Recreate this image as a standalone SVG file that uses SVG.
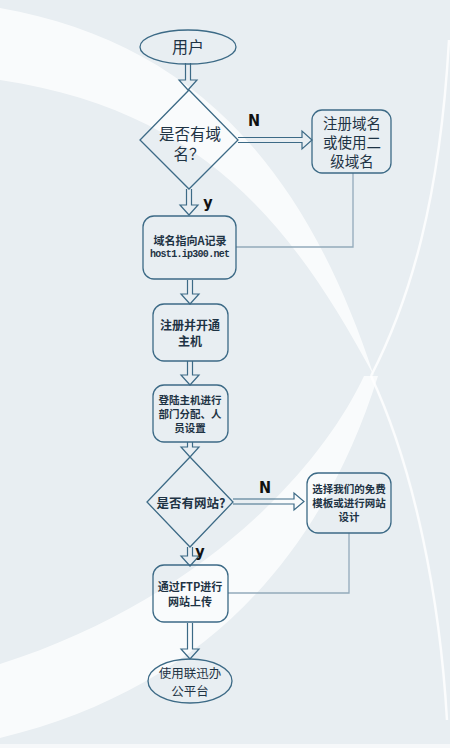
<svg xmlns="http://www.w3.org/2000/svg" width="450" height="748" viewBox="0 0 450 748">
<style>
.shape{fill:none;stroke:#3c6a86;stroke-width:1.3}
.arr{fill:none;stroke:#3c6a86;stroke-width:1.2;stroke-linejoin:miter}
.link{fill:none;stroke:#93aabb;stroke-width:1.3}
.t{font-family:"Noto Sans CJK SC","Noto Sans",sans-serif;fill:#1e3344;text-anchor:middle;dominant-baseline:central}
.b{font-weight:bold}
.mono{font-family:"Liberation Mono","DejaVu Sans Mono",monospace;font-weight:bold}
.lab{font-family:"Liberation Sans Narrow","DejaVu Sans Condensed",sans-serif;font-weight:bold;fill:#111;font-size:16px;text-anchor:middle;dominant-baseline:central}
.swoosh{fill:#ffffff;opacity:0.75}
.thin{fill:none;stroke:#ffffff;opacity:0.8}
</style>
<rect x="0" y="0" width="450" height="748" fill="#e8eef2"/>
<g id="background">
<path class="swoosh" d="M0,8 C180,40 300,150 374,376 C290,220 200,110 0,80 Z"/>
<path class="swoosh" d="M364,376 C320,470 200,600 0,664 L0,738 C200,690 320,560 378,376 Z"/>
<path class="thin" stroke-width="2.5" d="M449,40 C440,200 410,300 371,376"/>
<path class="thin" stroke-width="2.5" d="M371,376 C415,470 440,600 447,720"/>
<rect x="0" y="744" width="450" height="4" fill="#f6f8fa"/>
</g>
<g id="connectors">
<path class="arr" d="M185.5,63 V80 H179 L188,90 L197,80 H190.5 V63"/>
<path class="arr" d="M186.5,189 V205 H180 L189,215 L198,205 H191.5 V189"/>
<path class="arr" d="M187.5,280 V294 H181 L190,304 L199,294 H192.5 V280"/>
<path class="arr" d="M187.5,361 V375 H181 L190,385 L199,375 H192.5 V361"/>
<path class="arr" d="M187.5,442 V447 H181 L190,457 L199,447 H192.5 V442"/>
<path class="arr" d="M187.5,547 V556 H181 L190,566 L199,556 H192.5 V547"/>
<path class="arr" d="M187.5,623 V649 H181 L190,659 L199,649 H192.5 V623"/>
<path class="arr" d="M238,137.5 H302 V131 L312,140 L302,149 V142.5 H238"/>
<path class="arr" d="M233,499 H294 V493 L304,501.5 L294,510 V504 H233"/>
<path class="link" d="M353,173 V247 H236"/>
<path class="link" d="M349,533 V593 H228"/>
<text class="lab" x="254" y="120">N</text>
<text class="lab" x="208" y="202">y</text>
<text class="lab" x="265" y="487">N</text>
<text class="lab" x="200" y="551">y</text>
</g>
<g id="user">
<ellipse class="shape" cx="188" cy="47" rx="48" ry="17"/>
<text class="t" x="188" y="46" font-size="16">用户</text>
</g>
<g id="hasDomain">
<polygon class="shape" points="189,90 238,140 189,189 140,140"/>
<text class="t" font-size="15.5"><tspan x="190" y="132.5">是否有域</tspan><tspan x="189" y="153">名？</tspan></text>
</g>
<g id="registerDomain">
<rect class="shape" x="312" y="110" width="79" height="63" rx="10"/>
<text class="t" font-size="14.5"><tspan x="352" y="122">注册域名</tspan><tspan x="352" y="141">或使用二</tspan><tspan x="352" y="160">级域名</tspan></text>
</g>
<g id="pointA">
<rect class="shape" x="143" y="216" width="93" height="63" rx="11"/>
<text class="t b" font-size="11"><tspan x="190" y="240">域名指向A记录</tspan><tspan class="mono" x="190" y="254" font-size="10" textLength="80" lengthAdjust="spacing">host1.ip300.net</tspan></text>
</g>
<g id="openHost">
<rect class="shape" x="153" y="304" width="75" height="57" rx="11"/>
<text class="t b" font-size="12"><tspan x="190" y="324">注册并开通</tspan><tspan x="190" y="340">主机</tspan></text>
</g>
<g id="setup">
<rect class="shape" x="153" y="385" width="75" height="57" rx="11"/>
<text class="t b" font-size="10.5"><tspan x="190" y="399">登陆主机进行</tspan><tspan x="190" y="413">部门分配、人</tspan><tspan x="190" y="427">员设置</tspan></text>
</g>
<g id="hasSite">
<polygon class="shape" points="190,457 233,502 190,547 147,502"/>
<text class="t b" x="191" y="502" font-size="12.5">是否有网站?</text>
</g>
<g id="template">
<rect class="shape" x="307" y="473" width="84" height="60" rx="11"/>
<text class="t b" font-size="10.5"><tspan x="349" y="488">选择我们的免费</tspan><tspan x="349" y="502">模板或进行网站</tspan><tspan x="349" y="516">设计</tspan></text>
</g>
<g id="upload">
<rect class="shape" x="153" y="565" width="75" height="57" rx="11"/>
<text class="t b" font-size="11"><tspan x="190" y="586">通过FTP进行</tspan><tspan x="190" y="600.5">网站上传</tspan></text>
</g>
<g id="platform">
<ellipse class="shape" cx="190" cy="681" rx="42" ry="22"/>
<text class="t" font-size="12.5"><tspan x="190" y="672">使用联迅办</tspan><tspan x="190" y="689.5">公平台</tspan></text>
</g>
</svg>
